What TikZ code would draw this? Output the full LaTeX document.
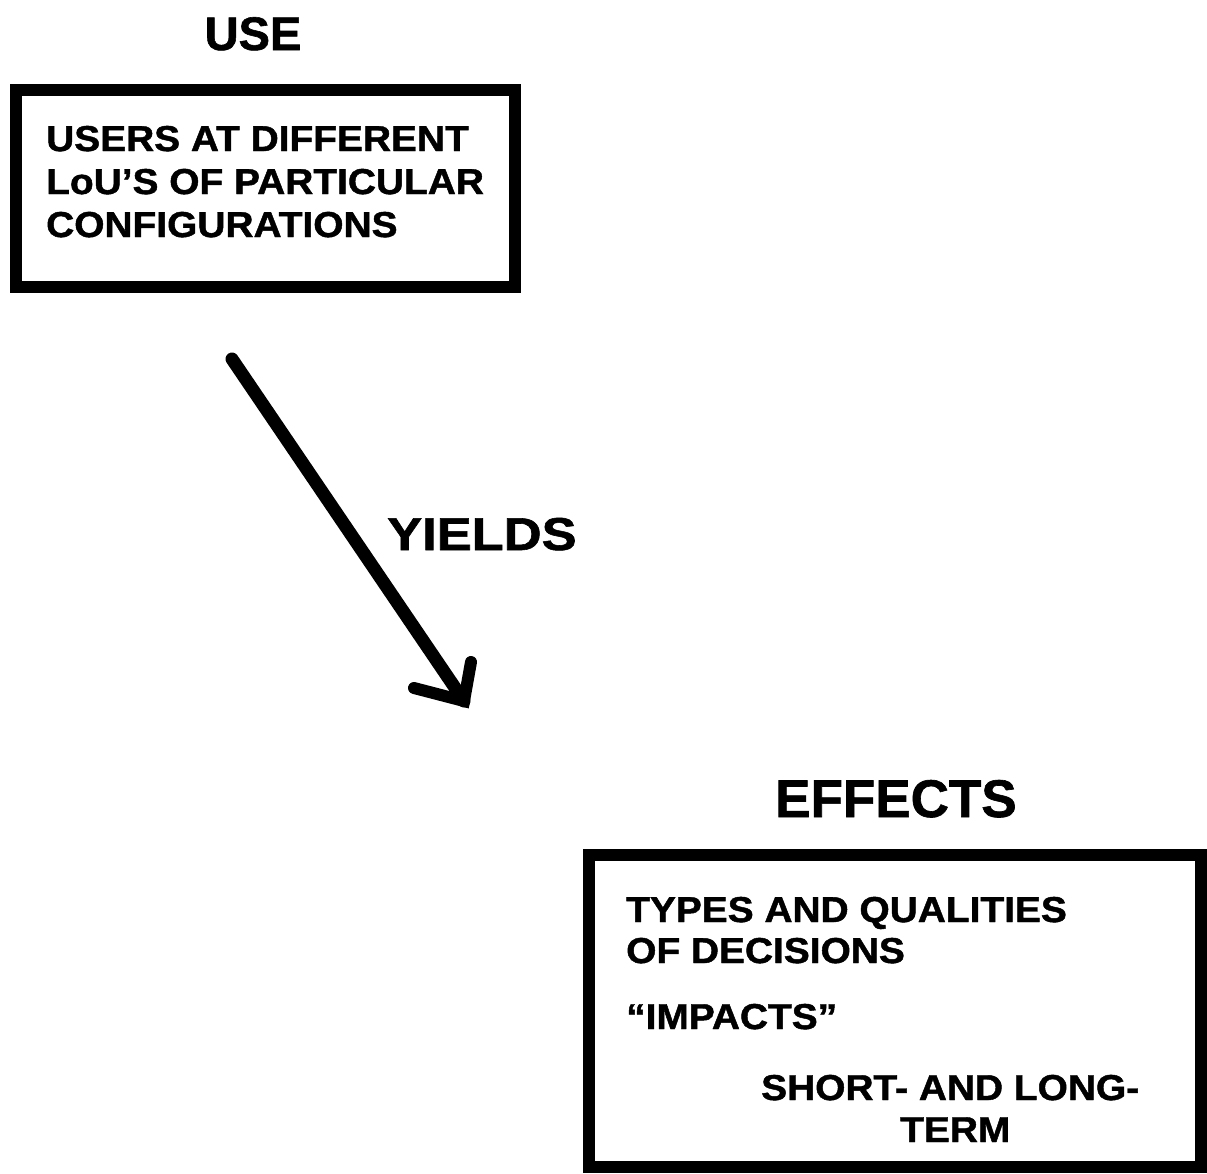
\documentclass[tikz,border=0pt]{standalone}
\usepackage{graphicx}
\usepackage{fontspec}
\setmainfont{Liberation Sans}[BoldFeatures={FakeBold=1.2}]
\newcommand{\wide}[2]{\scalebox{#1}[1]{#2}}
\begin{document}
\begin{tikzpicture}[x=1pt,y=-1pt,
  frame/.style={draw=black, line width=12pt, minimum width=#1, inner sep=0pt, outer sep=0pt},
  boxtext/.style={anchor=base west, inner sep=0pt, font=\bfseries\fontsize{36}{44}\selectfont},
  title/.style={inner sep=0pt, font=\bfseries\fontsize{#1}{#1}\selectfont},
  shaft/.style={line width=13pt, line cap=round},
  head/.style={line width=12pt, line join=miter, line cap=round}]
\useasboundingbox (0,0) rectangle (1207,1173);
\fill[white] (0,0) rectangle (1207,1173);
% titles
\node[title=47, anchor=base] (usetitle) at (253,50) {USE};
\node[title=53, anchor=base west] (efftitle) at (775,817) {EFFECTS};
\node[title=46, anchor=base west] (yields) at (387,550) {\wide{1.14}{YIELDS}};
% boxes
\node[frame=499pt, minimum height=197pt] (usebox) at (265.5,188.5) {};
\node[frame=612pt, minimum height=312pt] (effbox) at (895,1011) {};
% box 1 text
\node[boxtext] (u1) at (46,151) {\wide{1.08}{USERS AT DIFFERENT}};
\node[boxtext] (u2) at (46,194) {\wide{1.08}{LoU’S OF PARTICULAR}};
\node[boxtext] (u3) at (46,237) {\wide{1.08}{CONFIGURATIONS}};
% box 2 text
\node[boxtext] (e1) at (626,922) {\wide{1.08}{TYPES AND QUALITIES}};
\node[boxtext] (e2) at (626,963) {\wide{1.08}{OF DECISIONS}};
\node[boxtext] (e3) at (626,1029) {\wide{1.08}{“IMPACTS”}};
\node[boxtext] (e4) at (761,1100) {\wide{1.08}{SHORT- AND LONG-}};
\node[boxtext] (e5) at (900,1142) {\wide{1.08}{TERM}};
% arrow
\coordinate (astart) at (232,359);
\coordinate (atip) at (464,701);
\coordinate (lbarb) at (414,688);
\coordinate (rbarb) at (471,662);
\draw[shaft] (astart) -- (atip);
\draw[head] (lbarb) -- (atip) -- (rbarb);
\end{tikzpicture}
\end{document}
